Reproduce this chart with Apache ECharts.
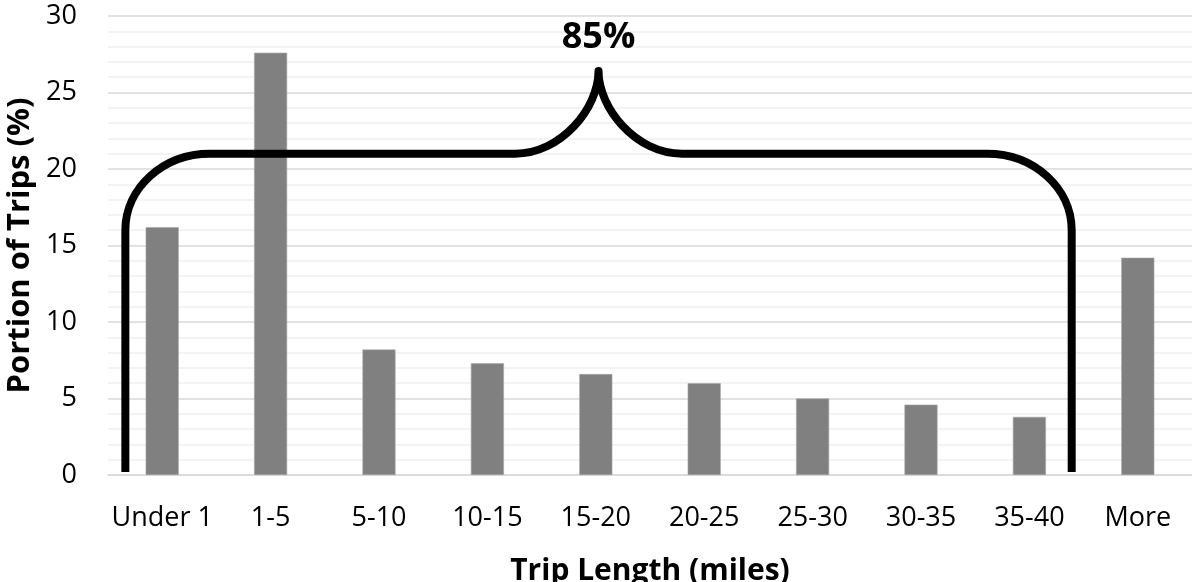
<!DOCTYPE html>
<html>
<head>
<meta charset="utf-8">
<title>Trip Length Distribution</title>
<script src="https://cdn.jsdelivr.net/npm/echarts@6/dist/echarts.min.js"></script>
<style>
  html, body { margin: 0; padding: 0; background: #ffffff; }
  #chart { width: 1192px; height: 582px; }
</style>
</head>
<body>
<div id="chart"></div>
<script>
// Trip length bins and share of trips in each bin (%)
const categories = ['Under 1', '1-5', '5-10', '10-15', '15-20', '20-25', '25-30', '30-35', '35-40', 'More'];
const tripShare = [16.2, 27.6, 8.2, 7.3, 6.6, 6.0, 5.0, 4.6, 3.8, 14.2];
const yTicks = [0, 5, 10, 15, 20, 25, 30];

// Brace annotation spanning the bins under 40 miles
const braceLabel = '85%';
const braceSpan = { from: -0.34, to: 8.39, foot: 0.2, arm: 21, tip: 26.4, labelAt: 28.6 };

const FONT = '"Open Sans", "Liberation Sans", sans-serif';

const chart = echarts.init(document.getElementById('chart'), null, { renderer: 'canvas' });

function braceRenderItem(params, api) {
  // map fractional category positions and values to pixels via the axes
  const p0 = api.coord([0, 0]);
  const p1 = api.coord([1, 0]);
  const step = p1[0] - p0[0];
  const px = (c) => p0[0] + step * c;
  const py = (v) => api.coord([0, v])[1];

  const xl = px(braceSpan.from);
  const xr = px(braceSpan.to);
  const xm = (xl + xr) / 2;
  const yFoot = py(braceSpan.foot);
  const yArm = py(braceSpan.arm);
  const yTip = py(braceSpan.tip);

  const cornerW = step * 0.78;
  const cornerH = py(braceSpan.arm - 5) - yArm;
  const tipW = step * 0.77;
  const tipH = yArm - yTip;
  const k = 0.5523;

  const d = [
    'M', xl, yFoot,
    'L', xl, yArm + cornerH,
    'C', xl, yArm + cornerH * (1 - k), xl + cornerW * (1 - k), yArm, xl + cornerW, yArm,
    'L', xm - tipW, yArm,
    'C', xm - tipW + tipW * k, yArm, xm, yTip + tipH * (1 - k), xm, yTip,
    'C', xm, yTip + tipH * (1 - k), xm + tipW - tipW * k, yArm, xm + tipW, yArm,
    'L', xr - cornerW, yArm,
    'C', xr - cornerW * (1 - k), yArm, xr, yArm + cornerH * (1 - k), xr, yArm + cornerH,
    'L', xr, yFoot
  ].join(' ');

  return {
    type: 'group',
    children: [
      {
        type: 'path',
        shape: { pathData: d },
        style: { fill: null, stroke: '#000000', lineWidth: 8, lineJoin: 'round', lineCap: 'butt' }
      },
      {
        type: 'text',
        x: xm,
        y: py(braceSpan.labelAt),
        style: {
          text: braceLabel,
          fill: '#000000',
          font: 'bold 36px ' + FONT,
          align: 'center',
          verticalAlign: 'middle'
        }
      }
    ]
  };
}

const option = {
  backgroundColor: '#ffffff',
  animation: false,
  grid: { left: 108, right: 0, top: 16, bottom: 107, containLabel: false, outerBoundsMode: 'none' },
  xAxis: {
    type: 'category',
    data: categories,
    name: 'Trip Length (miles)',
    nameLocation: 'middle',
    nameGap: 81,
    nameTextStyle: { fontFamily: FONT, fontWeight: 'bold', fontSize: 30, color: '#000000' },
    axisLine: { show: true, lineStyle: { color: '#d9d9d9', width: 1.5 } },
    axisTick: { show: false },
    axisLabel: { fontFamily: FONT, fontSize: 27, color: '#000000', margin: 30, interval: 0 }
  },
  yAxis: {
    type: 'value',
    min: yTicks[0],
    max: yTicks[yTicks.length - 1],
    interval: yTicks[1] - yTicks[0],
    name: 'Portion of Trips (%)',
    nameLocation: 'middle',
    nameGap: 70,
    nameTextStyle: { fontFamily: FONT, fontWeight: 'bold', fontSize: 31, color: '#000000' },
    axisLine: { show: false },
    axisTick: { show: false },
    axisLabel: { fontFamily: FONT, fontSize: 27, color: '#000000', margin: 31 },
    splitLine: { show: true, lineStyle: { color: '#d9d9d9', width: 1.5 } },
    minorTick: { show: false, splitNumber: 5 },
    minorSplitLine: { show: true, lineStyle: { color: '#f0f0f0', width: 1.5 } }
  },
  series: [
    {
      type: 'bar',
      data: tripShare,
      barWidth: '30.5%',
      itemStyle: { color: '#808080', borderColor: '#a6a6a6', borderWidth: 0.6 },
      z: 2
    },
    {
      type: 'custom',
      renderItem: braceRenderItem,
      data: [[0, 0]],
      silent: true,
      clip: false,
      z: 5
    }
  ]
};

chart.setOption(option);
</script>
</body>
</html>
